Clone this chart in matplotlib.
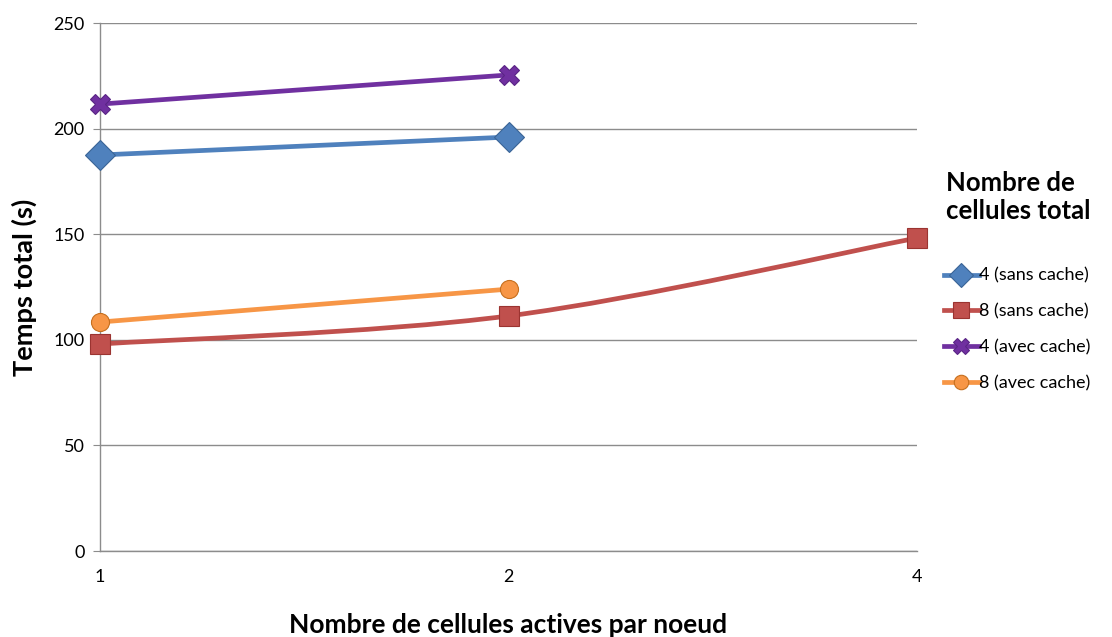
import numpy as np
import matplotlib.pyplot as plt
from matplotlib.path import Path
from matplotlib.patches import PathPatch
from matplotlib.lines import Line2D

plt.rcParams['font.family'] = ['Lato', 'DejaVu Sans']

# x categories (evenly spaced, as in a category axis)
actives = ['1', '2', '4']

sans4 = [187.5, 196.0]
sans8 = [98.0, 111.3, 148.2]
avec4 = [211.6, 225.4]
avec8 = [108.4, 124.0]

labels = ['4 (sans cache)', '8 (sans cache)', '4 (avec cache)', '8 (avec cache)']
colors = ['#4F81BD', '#C0504D', '#7030A0', '#F79646']
edges = ['#3A6496', '#9B3431', '#5A2585', '#C66F1E']
markers = ['D', 's', 'X', 'o']
msizes = [15, 14, 15, 13]


def smooth_path(xs, ys):
    # bezier segments with tangents from neighbouring points
    pts = np.column_stack([xs, ys]).astype(float)
    verts = [pts[0]]
    codes = [Path.MOVETO]
    n = len(pts)
    for i in range(n - 1):
        p0 = pts[max(i - 1, 0)]
        p1 = pts[i]
        p2 = pts[i + 1]
        p3 = pts[min(i + 2, n - 1)]
        c1 = p1 + (p2 - p0) / 6.0
        c2 = p2 - (p3 - p1) / 6.0
        verts += [c1, c2, p2]
        codes += [Path.CURVE4] * 3
    return Path(verts, codes)


fig = plt.figure(figsize=(11.12, 6.37), dpi=100)
ax = fig.add_axes([100 / 1112, 1 - 551 / 637, 817 / 1112, 528 / 637])

series = [sans4, sans8, avec4, avec8]
for vals, c, ec, m, ms in zip(series, colors, edges, markers, msizes):
    xs = np.arange(len(vals))
    if len(vals) > 2:
        ax.add_patch(PathPatch(smooth_path(xs, vals), facecolor='none',
                               edgecolor=c, lw=3.4, capstyle='round',
                               zorder=3))
    else:
        ax.plot(xs, vals, color=c, lw=3.4, solid_capstyle='round', zorder=3)
    ax.plot(xs, vals, ls='none', marker=m, ms=ms, mfc=c, mec=ec, mew=0.8,
            zorder=4, clip_on=False)

ax.set_xlim(0, len(actives) - 1)
ax.set_ylim(0, 250)
ax.set_xticks(range(len(actives)))
ax.set_xticklabels(actives)
ax.set_yticks(range(0, 251, 50))
ax.yaxis.grid(True, color='#8C8C8C', lw=1.0)
ax.set_axisbelow(True)
for s in ['top', 'right']:
    ax.spines[s].set_visible(False)
for s in ['left', 'bottom']:
    ax.spines[s].set_color('#8C8C8C')
    ax.spines[s].set_linewidth(1.0)
ax.tick_params(axis='y', length=5, color='#8C8C8C', labelsize=13, pad=6)
ax.tick_params(axis='x', length=0, labelsize=13, pad=13)

ax.set_xlabel('Nombre de cellules actives par noeud', fontsize=19,
              fontweight='bold', labelpad=20)
ax.set_ylabel('Temps total (s)', fontsize=19.5, fontweight='bold',
              labelpad=12)

handles = [Line2D([0], [0], color=c, lw=3.4, marker=m, ms=ms * 0.8,
                  mfc=c, mec=ec, mew=0.8)
           for c, ec, m, ms in zip(colors, edges, markers, msizes)]
leg = fig.legend(handles, labels, loc='upper left',
                 bbox_to_anchor=(928 / 1112, 1 - 155 / 637),
                 frameon=False, fontsize=13, handlelength=1.9,
                 handletextpad=0.05, labelspacing=1.1,
                 title='Nombre de\ncellules total',
                 title_fontproperties={'weight': 'bold', 'size': 18.5})
leg._legend_box.align = 'right'
leg._legend_box.sep = 32

fig.savefig('out.png', dpi=100)
